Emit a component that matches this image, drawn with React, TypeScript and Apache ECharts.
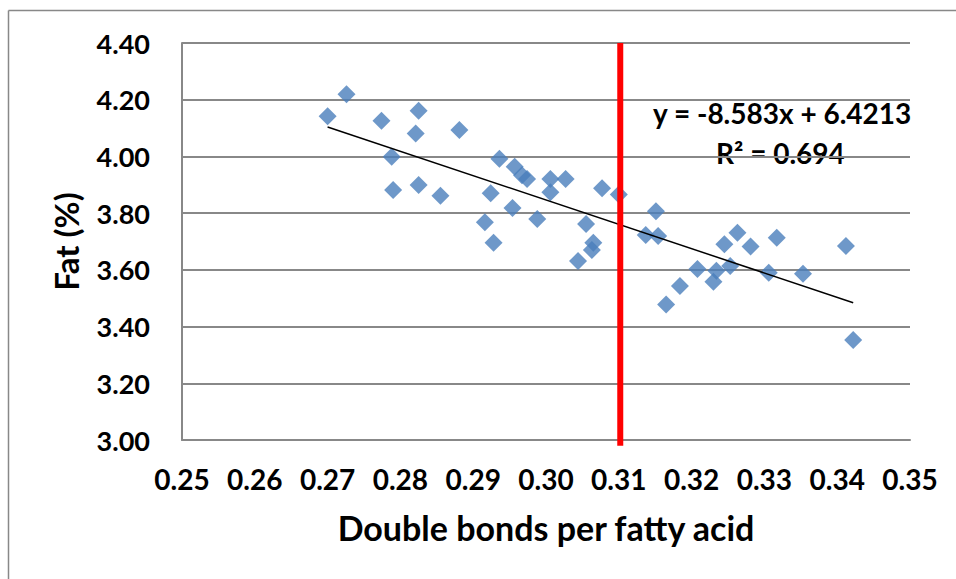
import React, { useEffect, useRef } from "react";
import * as echarts from "echarts";

const doubleBonds = [
  0.2700, 0.2726, 0.2774, 0.2825, 0.2821, 0.2788, 0.2790, 0.2825, 0.2855, 0.2881,
  0.2936, 0.2924, 0.2916, 0.2928, 0.2957, 0.2967, 0.2974, 0.2954, 0.2988, 0.3006,
  0.3027, 0.3006, 0.3044, 0.3055, 0.3065, 0.3063, 0.3077, 0.3100, 0.3137, 0.3151,
  0.3154, 0.3165, 0.3184, 0.3208, 0.3230, 0.3234, 0.3245, 0.3253, 0.3263, 0.3281,
  0.3306, 0.3317, 0.3353, 0.3412, 0.3422,
];
const fatPct = [
  4.142, 4.219, 4.126, 4.161, 4.081, 3.999, 3.882, 3.899, 3.861, 4.093,
  3.992, 3.870, 3.768, 3.696, 3.964, 3.934, 3.920, 3.818, 3.779, 3.920,
  3.920, 3.874, 3.631, 3.762, 3.696, 3.670, 3.888, 3.866, 3.723, 3.807,
  3.719, 3.478, 3.543, 3.603, 3.558, 3.597, 3.690, 3.614, 3.731, 3.682,
  3.590, 3.713, 3.586, 3.684, 3.353,
];
const trendSlope = -8.583;
const trendIntercept = 6.4213;
const rSquared = 0.694;
const redLineX = 0.3102;
const redLineY = [2.98, 4.4];

const FONT = "Lato";

export default function App() {
  const ref = useRef<HTMLDivElement>(null);
  useEffect(() => {
    if (!ref.current) return;
    const chart = echarts.init(ref.current, undefined, { renderer: "svg" });
    const points = doubleBonds.map((x, i) => [x, fatPct[i]]);
    const xMin = Math.min(...doubleBonds);
    const xMax = Math.max(...doubleBonds);
    const trend = [
      [xMin, trendSlope * xMin + trendIntercept],
      [xMax, trendSlope * xMax + trendIntercept],
    ];
    chart.setOption({
      animation: false,
      backgroundColor: "#ffffff",
      grid: { left: 182, top: 43, right: 46, bottom: 139, containLabel: false },
      xAxis: {
        type: "value",
        min: 0.25,
        max: 0.35,
        interval: 0.01,
        name: "Double bonds per fatty acid",
        nameLocation: "middle",
        nameGap: 70,
        nameTextStyle: { fontFamily: FONT, fontWeight: "bold", fontSize: 34, color: "#000" },
        axisLine: { show: true, onZero: false, lineStyle: { color: "#888888", width: 2 } },
        axisTick: { show: false },
        splitLine: { show: false },
        axisLabel: {
          margin: 25,
          fontFamily: FONT,
          fontWeight: "bold",
          fontSize: 28,
          color: "#000",
          formatter: (v: number) => v.toFixed(2),
        },
      },
      yAxis: {
        type: "value",
        min: 3.0,
        max: 4.4,
        interval: 0.2,
        name: "Fat (%)",
        nameLocation: "middle",
        nameGap: 100,
        nameTextStyle: { fontFamily: FONT, fontWeight: "bold", fontSize: 33, color: "#000" },
        axisLine: { show: true, lineStyle: { color: "#888888", width: 2 } },
        axisTick: { show: false },
        splitLine: { show: true, lineStyle: { color: "#888888", width: 2 } },
        axisLabel: {
          margin: 32,
          fontFamily: FONT,
          fontWeight: "bold",
          fontSize: 27,
          color: "#000",
          formatter: (v: number) => v.toFixed(2),
        },
      },
      series: [
        {
          type: "scatter",
          data: points,
          symbol: "diamond",
          symbolSize: 18,
          itemStyle: { color: "#4A7EBB" },
          z: 2,
        },
        {
          type: "line",
          data: trend,
          symbol: "none",
          lineStyle: { color: "#000000", width: 1.5 },
          z: 3,
        },
        {
          type: "line",
          data: redLineY.map((y) => [redLineX, y]),
          symbol: "none",
          clip: false,
          lineStyle: { color: "#FF0000", width: 6 },
          z: 4,
        },
      ],
      graphic: [
        { type: "line", shape: { x1: 8.5, y1: 10.5, x2: 956, y2: 10.5 }, style: { stroke: "#888888", lineWidth: 1.5 } },
        { type: "line", shape: { x1: 8.5, y1: 10.5, x2: 8.5, y2: 579 }, style: { stroke: "#888888", lineWidth: 1.5 } },
        {
          type: "text",
          right: 44,
          top: 99,
          style: {
            text: `y = ${trendSlope}x + ${trendIntercept}`,
            fontFamily: FONT,
            fontWeight: "bold",
            fontSize: 28,
            fill: "#000",
          },
        },
        {
          type: "text",
          left: 716,
          top: 139,
          style: {
            text: `R² = ${rSquared}`,
            fontFamily: FONT,
            fontWeight: "bold",
            fontSize: 28,
            fill: "#000",
          },
        },
      ],
    });
    return () => chart.dispose();
  }, []);
  return (
    <div
      ref={ref}
      style={{ position: "fixed", left: 0, top: 0, width: 956, height: 579 }}
    />
  );
}
